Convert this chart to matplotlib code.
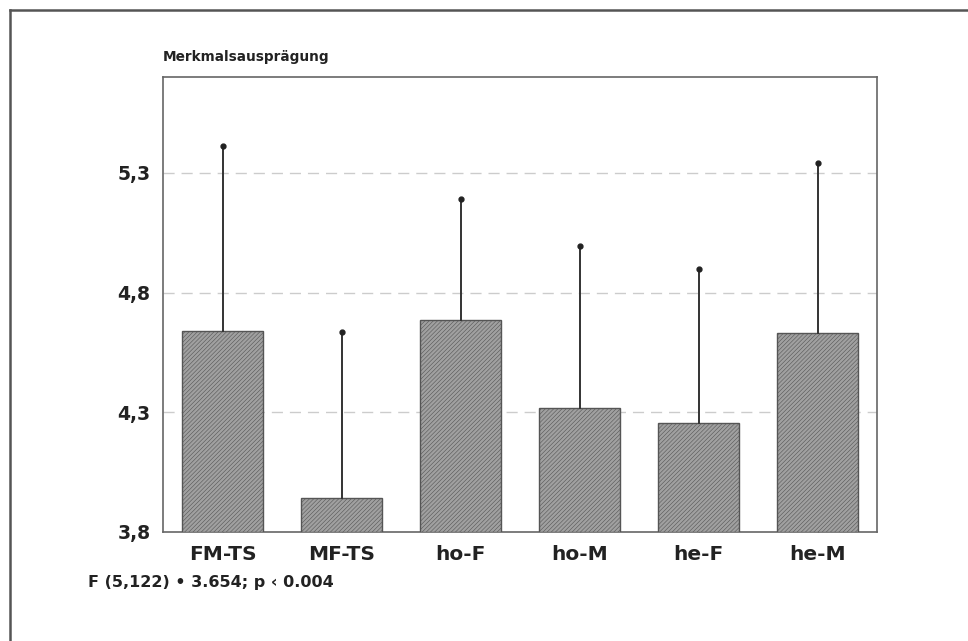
import matplotlib
matplotlib.use("Agg")
import matplotlib.pyplot as plt
from matplotlib.lines import Line2D

categories = ["FM-TS", "MF-TS", "ho-F", "ho-M", "he-F", "he-M"]
means = [4.64, 3.94, 4.686, 4.318, 4.255, 4.633]
upper = [5.411, 4.635, 5.19, 4.995, 4.899, 5.339]
yticks = [3.8, 4.3, 4.8, 5.3]
ytick_labels = ["3,8", "4,3", "4,8", "5,3"]

plt.rcParams['hatch.color'] = '#858585'
plt.rcParams['hatch.linewidth'] = 0.4
plt.rcParams['font.family'] = ['DejaVu Sans']

fig = plt.figure(figsize=(9.68, 6.41), dpi=100)
ax = fig.add_axes([163/968, 1-532/641, (877-163)/968, (532-77)/641])

x = list(range(len(categories)))
ax.bar(x, [m - 3.8 for m in means], bottom=3.8, width=0.68,
       color='#a0a0a0', edgecolor='#555555', linewidth=1.0, hatch='////////', zorder=3)
for xi, m, u in zip(x, means, upper):
    ax.plot([xi, xi], [m, u], color='#333333', lw=1.4, zorder=4)
    ax.plot([xi], [u], marker='o', ms=3.5, color='#222222', zorder=5)

ax.set_xlim(-0.5, len(categories) - 0.5)
ax.set_ylim(3.8, 5.7)
ax.set_yticks(yticks)
ax.set_yticklabels(ytick_labels, fontsize=13.5, fontweight='bold', color='#222222')
ax.set_xticks(x)
ax.set_xticklabels(categories, fontsize=14.5, fontweight='bold', color='#222222')
ax.tick_params(axis='x', direction='in', length=5, width=1, color='#555555', pad=9)
ax.tick_params(axis='y', length=0, pad=9)
for t in yticks[1:]:
    ax.axhline(t, color='#cccccc', lw=1.0, ls=(0, (8, 5)), zorder=1)
for s in ax.spines.values():
    s.set_color('#666666')
    s.set_linewidth(1.2)

fig.text(163/968, 1-64/641, "Merkmalsausprägung", fontsize=9.8, fontweight='bold',
         color='#222222', ha='left', va='bottom')
fig.text(88/968, 1-583/641, "F (5,122) \u2022 3.654; p \u2039 0.004", fontsize=11.5,
         fontweight='bold', color='#222222', ha='left', va='center')

# outer frame
fig.add_artist(Line2D([10/968, 10/968], [0, 1-10/641], transform=fig.transFigure,
                      color='#555555', lw=1.8))
fig.add_artist(Line2D([10/968, 1], [1-10/641, 1-10/641], transform=fig.transFigure,
                      color='#555555', lw=1.8))

fig.savefig("out.png", dpi=100)
